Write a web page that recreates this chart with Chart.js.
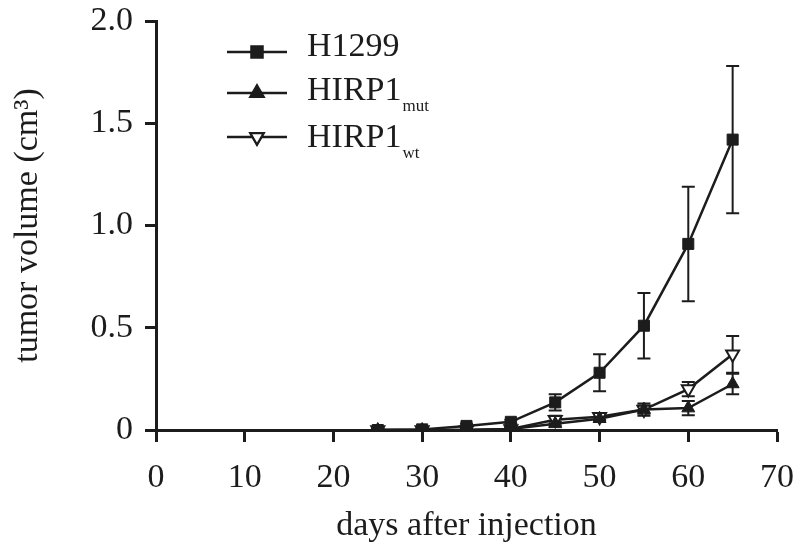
<!DOCTYPE html>
<html>
<head>
<meta charset="utf-8">
<script src="https://cdn.jsdelivr.net/npm/chart.js@4/dist/chart.umd.min.js"></script>
<style>
  html, body { margin: 0; padding: 0; background: #fff; }
  #wrap { width: 800px; height: 553px; position: relative; }
</style>
</head>
<body>
<div id="wrap"><canvas id="tumorChart"></canvas></div>
<script>
// ===== Datos =====
const days = [25, 30, 35, 40, 45, 50, 55, 60, 65];

const h1299 = [0, 0.003, 0.02, 0.04, 0.135, 0.28, 0.51, 0.91, 1.42];
const h1299Err = [0.01, 0.01, 0.01, 0.01, 0.04, 0.09, 0.16, 0.28, 0.36];

const hirpMut = [0, 0, 0, 0.005, 0.03, 0.055, 0.10, 0.107, 0.225];
const hirpMutErr = [0.005, 0.005, 0.005, 0.005, 0.01, 0.01, 0.02, 0.035, 0.05];

const hirpWt = [0, 0, 0, 0.005, 0.05, 0.065, 0.10, 0.20, 0.37];
const hirpWtErr = [0.005, 0.005, 0.005, 0.005, 0.02, 0.015, 0.03, 0.035, 0.09];

const seriesNames = ['H1299', 'HIRP1', 'HIRP1'];
const seriesSubs = ['', 'mut', 'wt'];

const xTicks = [0, 10, 20, 30, 40, 50, 60, 70];
const yTicks = [0, 0.5, 1.0, 1.5, 2.0];

const INK = '#1c1c1c';
const FONT = '"Liberation Serif", "Times New Roman", serif';

function toPoints(vals) {
    return days.map((d, i) => ({ x: d, y: vals[i] }));
}

// barras de error dibujadas con las escalas del chart
const errorBars = {
    id: 'errorBars',
    beforeDatasetsDraw(chart) {
        const { ctx, scales: { x, y } } = chart;
        ctx.save();
        ctx.strokeStyle = INK;
        ctx.lineWidth = 2;
        chart.data.datasets.forEach(ds => {
            ds.data.forEach((p, i) => {
                const e = ds.errors[i];
                const px = x.getPixelForValue(p.x);
                const yTop = y.getPixelForValue(p.y + e);
                const yBot = y.getPixelForValue(Math.max(0, p.y - e));
                ctx.beginPath();
                ctx.moveTo(px, yTop); ctx.lineTo(px, yBot);
                ctx.moveTo(px - 6.5, yTop); ctx.lineTo(px + 6.5, yTop);
                if (p.y - e > 0) { ctx.moveTo(px - 6.5, yBot); ctx.lineTo(px + 6.5, yBot); }
                ctx.stroke();
            });
        });
        ctx.restore();
    }
};

// leyenda con subíndices
const subLegend = {
    id: 'subLegend',
    afterDraw(chart) {
        const { ctx } = chart;
        const rows = [52, 93, 137];
        const baseDy = [4, 7, 10];
        ctx.save();
        chart.data.datasets.forEach((ds, i) => {
            const yy = rows[i];
            ctx.strokeStyle = INK;
            ctx.lineWidth = 2.5;
            ctx.beginPath();
            ctx.moveTo(227, yy); ctx.lineTo(287, yy);
            ctx.stroke();
            Chart.helpers.drawPoint(ctx, {
                pointStyle: ds.pointStyle,
                rotation: ds.pointRotation || 0,
                radius: ds.pointRadius,
                borderWidth: ds.pointBorderWidth
            }, 257, yy);
            ctx.fillStyle = ds.pointBackgroundColor;
            ctx.strokeStyle = INK;
            ctx.lineWidth = ds.pointBorderWidth;
            ctx.fill();
            ctx.stroke();

            ctx.fillStyle = INK;
            ctx.textBaseline = 'alphabetic';
            ctx.textAlign = 'left';
            ctx.font = `34px ${FONT}`;
            const base = yy + baseDy[i];
            ctx.fillText(seriesNames[i], 307, base);
            if (seriesSubs[i]) {
                const w = ctx.measureText(seriesNames[i]).width;
                ctx.font = `17px ${FONT}`;
                ctx.fillText(seriesSubs[i], 307 + w + 1, base + 11);
            }
        });
        ctx.restore();
    }
};

const ctx = document.getElementById('tumorChart');
new Chart(ctx, {
    type: 'line',
    data: {
        datasets: [
            {
                label: 'H1299',
                data: toPoints(h1299),
                errors: h1299Err,
                borderColor: INK,
                borderWidth: 2.5,
                pointStyle: 'rect',
                pointRadius: 7.8,
                pointBorderWidth: 1,
                pointBackgroundColor: INK,
                pointBorderColor: INK,
                tension: 0
            },
            {
                label: 'HIRP1mut',
                data: toPoints(hirpMut),
                errors: hirpMutErr,
                borderColor: INK,
                borderWidth: 2.5,
                pointStyle: 'triangle',
                pointRadius: 7.5,
                pointBorderWidth: 1,
                pointBackgroundColor: INK,
                pointBorderColor: INK,
                tension: 0
            },
            {
                label: 'HIRP1wt',
                data: toPoints(hirpWt),
                errors: hirpWtErr,
                borderColor: INK,
                borderWidth: 2.5,
                pointStyle: 'triangle',
                pointRotation: 180,
                pointRadius: 7.5,
                pointBorderWidth: 2,
                pointBackgroundColor: '#ffffff',
                pointBorderColor: INK,
                tension: 0
            }
        ]
    },
    options: {
        responsive: true,
        maintainAspectRatio: false,
        animation: false,
        layout: { padding: { left: 0, top: 21, right: 23, bottom: 0 } },
        plugins: {
            legend: { display: false },
            tooltip: { enabled: false }
        },
        scales: {
            x: {
                type: 'linear',
                min: 0,
                max: 70,
                afterBuildTicks: s => { s.ticks = xTicks.map(v => ({ value: v })); },
                afterFit: s => {
                    s.height = 123;
                    s.paddingLeft = 0; s.paddingRight = 0;
                },
                ticks: { color: INK, font: { family: FONT, size: 34 }, padding: 16, maxRotation: 0 },
                grid: { drawOnChartArea: false, tickLength: 12, tickWidth: 3, tickColor: INK },
                border: { display: true, color: INK, width: 3 },
                title: {
                    display: true,
                    text: 'days after injection',
                    color: INK,
                    font: { family: FONT, size: 34 },
                    padding: { top: 0, bottom: 7 }
                }
            },
            y: {
                min: 0,
                max: 2,
                afterBuildTicks: s => { s.ticks = yTicks.map(v => ({ value: v })); },
                afterFit: s => {
                    s.width = 156;
                    s.paddingTop = 0; s.paddingBottom = 0;
                },
                ticks: {
                    color: INK,
                    font: { family: FONT, size: 34 },
                    padding: 12,
                    callback: v => v === 0 ? '0' : v.toFixed(1)
                },
                grid: { drawOnChartArea: false, tickLength: 11, tickWidth: 3, tickColor: INK },
                border: { display: true, color: INK, width: 3 },
                title: {
                    display: true,
                    text: 'tumor volume (cm³)',
                    color: INK,
                    font: { family: FONT, size: 34 },
                    padding: { top: 8, bottom: 0 }
                }
            }
        }
    },
    plugins: [errorBars, subLegend]
});
</script>
</body>
</html>
